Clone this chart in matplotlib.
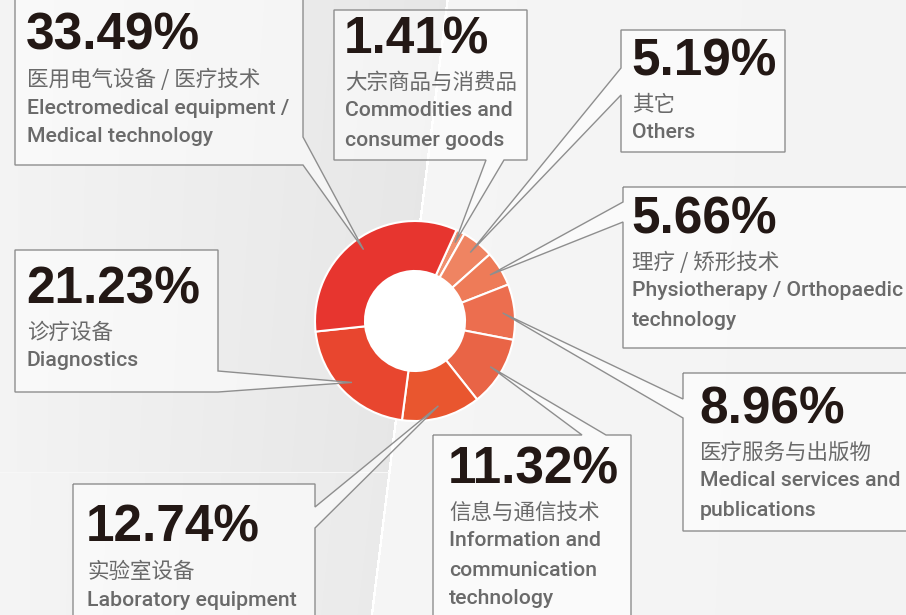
import numpy as np
import matplotlib.pyplot as plt
from matplotlib.patches import Polygon, Circle

# slice values, clockwise from the top
shares = [1.41, 5.19, 5.66, 8.96, 11.32, 12.74, 21.23, 33.49]
labels_cn = ["大宗商品与消费品", "其它", "理疗 / 矫形技术", "医疗服务与出版物",
             "信息与通信技术", "实验室设备", "诊疗设备", "医用电气设备 / 医疗技术"]
labels_en = [["Commodities and", "consumer goods"],
             ["Others"],
             ["Physiotherapy / Orthopaedic", "technology"],
             ["Medical services and", "publications"],
             ["Information and", "communication", "technology"],
             ["Laboratory equipment"],
             ["Diagnostics"],
             ["Electromedical equipment /", "Medical technology"]]
colors = ["#F08F6E", "#EF8462", "#EE7B58", "#EC6E4F",
          "#E96446", "#E9562F", "#E8462F", "#E7352F"]

W, H = 906, 615
cx, cy, R = 415, 321, 100
start = 65.5

# callout boxes: (left, top, right, bottom), pointer base points, text x, % baseline
boxes = [
    ((334, 10, 527, 160), [(486, 160), (504, 160)], 345, 53),
    ((621, 30, 785, 152), [(621, 68), (621, 95)], 632, 75),
    ((623, 187, 920, 348), [(623, 202), (623, 222)], 632, 233),
    ((683, 373, 920, 531), [(683, 399), (683, 418)], 700, 423),
    ((433, 435, 631, 630), [(582, 435), (606, 435)], 449, 483),
    ((73, 484, 315, 630), [(315, 507), (315, 528)], 87, 542),
    ((15, 250, 218, 392), [(218, 371), (218, 392)], 27, 303),
    ((15, -10, 303, 165), [(303, 137), (303, 165)], 27, 50),
]

fig = plt.figure(figsize=(W / 100, H / 100), dpi=100)

# background
bg = fig.add_axes([0, 0, 1, 1], zorder=0)
yy, xx = np.mgrid[0:H, 0:W]
div = 447 - 0.123 * yy
left = xx < div
img = 0.962 - 0.008 * (xx - div) / (W - div)
up = left & (yy < 472)
img[up] = 0.955 - 0.05 * (xx[up] / div[up])
low = left & (yy >= 472)
img[low] = 0.96 - 0.04 * (xx[low] / div[low])
img[np.abs(xx - div) < 1.2] = 1.0
img[(np.abs(yy - 472) < 1.0) & left] = 0.97
bg.imshow(np.dstack([img] * 3), extent=(0, W, H, 0), aspect="auto")
bg.set_xlim(0, W)
bg.set_ylim(H, 0)
bg.axis("off")

# donut
pad = 1.1
pax = fig.add_axes([(cx - pad * R) / W, 1 - (cy + pad * R) / H,
                    2 * pad * R / W, 2 * pad * R / H], zorder=1)
pax.pie(shares, colors=colors, startangle=start, counterclock=False, radius=1,
        wedgeprops=dict(width=0.5, edgecolor="white", linewidth=1.5))
pax.add_patch(Circle((0, 0), 0.5, facecolor="white", edgecolor="none"))
pax.set_xlim(-pad, pad)
pax.set_ylim(-pad, pad)
pax.axis("off")

# callouts
ax = fig.add_axes([0, 0, 1, 1], zorder=2)
ax.set_xlim(0, W)
ax.set_ylim(H, 0)
ax.axis("off")
ax.patch.set_alpha(0)


def perim(p, l, t, r, b):
    w, h = r - l, b - t
    x, y = p
    if abs(y - t) < 0.5:
        return x - l
    if abs(x - r) < 0.5:
        return w + (y - t)
    if abs(y - b) < 0.5:
        return w + h + (r - x)
    return 2 * w + h + (b - y)


bounds = np.cumsum([0] + shares) / sum(shares) * 360
cn_font = ["Noto Sans CJK SC", "DejaVu Sans"]
for i, v in enumerate(shares):
    mid = np.radians(start - (bounds[i] + bounds[i + 1]) / 2)
    tip = (cx + 0.88 * R * np.cos(mid), cy - 0.88 * R * np.sin(mid))
    (l, t, r, b), bases, tx, base_y = boxes[i]
    corners = [(l, t), (r, t), (r, b), (l, b)]
    cs = [perim(c, l, t, r, b) for c in corners]
    pa, pb = sorted(bases, key=lambda p: perim(p, l, t, r, b))
    sa, sb = perim(pa, l, t, r, b), perim(pb, l, t, r, b)
    verts = [c for c, s in zip(corners, cs) if s < sa - 0.1]
    verts += [pa, tip, pb]
    verts += [c for c, s in zip(corners, cs) if s > sb + 0.1]
    ax.add_patch(Polygon(verts, closed=True, facecolor="white", alpha=0.55,
                         edgecolor="none"))
    ax.add_patch(Polygon(verts, closed=True, facecolor="none",
                         edgecolor="#8E8E8E", linewidth=1.0))

    ax.text(tx - 1, base_y, f"{v:.2f}%", fontsize=37, fontweight="bold",
            family="Liberation Sans", color="#231815", va="baseline")
    ax.text(tx, base_y + 30, labels_cn[i], fontsize=15.5, family=cn_font,
            fontweight="medium", color="#6A6A6A", va="center")
    for k, line in enumerate(labels_en[i]):
        ax.text(tx, base_y + 58 + 29 * k, line, fontsize=15.3, family="Roboto",
                fontweight="medium", color="#6A6A6A", va="center")

fig.savefig("out.png", dpi=100)
